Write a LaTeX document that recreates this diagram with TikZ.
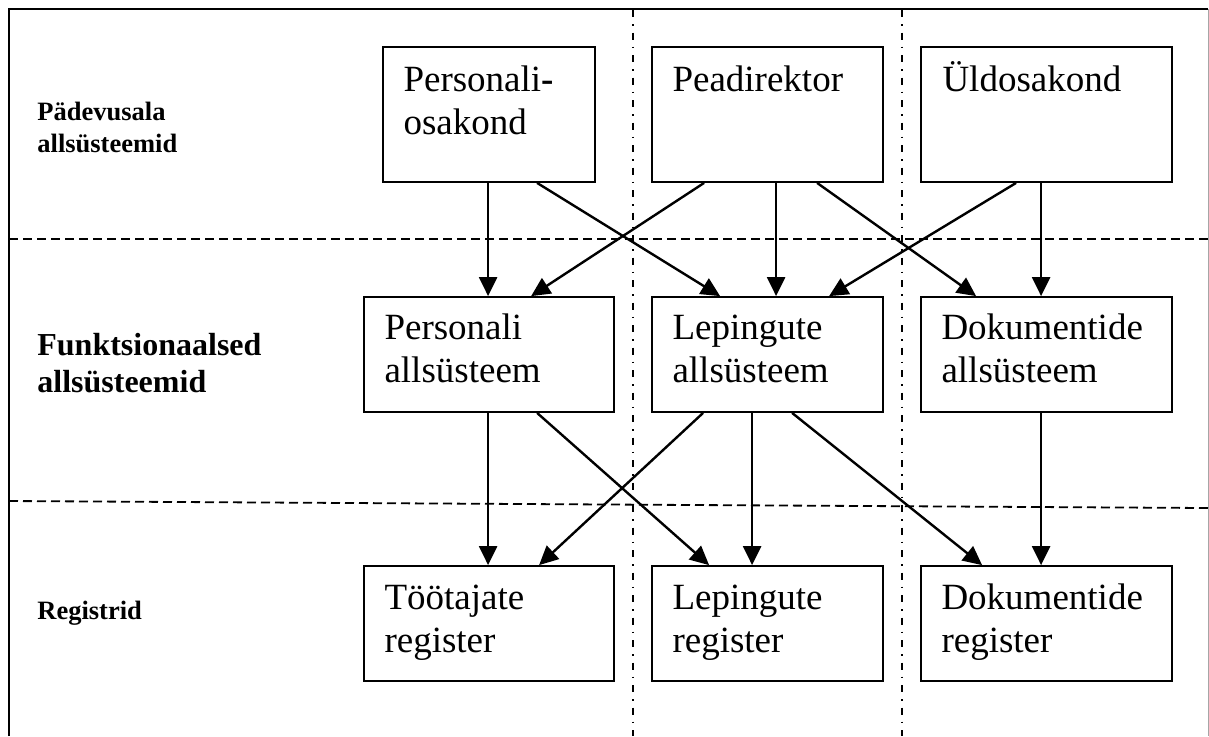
\documentclass[tikz,border=0pt]{standalone}
\usepackage{fontspec}
\setmainfont{Liberation Serif}
\usetikzlibrary{arrows.meta}
\begin{document}
\begin{tikzpicture}[x=0.5pt,y=-0.5pt,
  box/.style={draw, line width=0.9pt, rectangle, inner sep=0pt},
  topbox/.style={box, minimum height=67.5pt},
  lowbox/.style={box, minimum height=57.5pt},
  boxtext/.style={anchor=base west, inner sep=0pt, align=left,
    font=\fontsize{18.5}{21.5}\selectfont},
  rowlabel/.style={anchor=base west, inner sep=0pt, align=left,
    font=\bfseries\fontsize{13.25}{16}\selectfont},
  arr/.style={line width=1.2pt, -{Triangle[length=9.5pt,width=9pt]}},
  rowsep/.style={line width=0.9pt, dash pattern=on 4.5pt off 2.5pt},
  colsep/.style={line width=0.7pt, dash pattern=on 3.5pt off 3.5pt on 0.75pt off 3.5pt},
]
\useasboundingbox (0,0) rectangle (1209,736);

% outer frame
\draw[line width=1.1pt] (9,736) -- (9,9) -- (1208,9);
\draw[gray!70, line width=0.5pt] (1208,9) -- (1208,736);

% row and column separators
\draw[rowsep] (9,239) -- (1208,239);
\draw[rowsep] (9,501) -- (1208,508);
\draw[colsep] (633,10) -- (633,736);
\draw[colsep] (902,10) -- (902,736);

% row labels (anchored at the baseline of the last line)
\node[rowlabel] (lab1) at (37,152) {Pädevusala\\allsüsteemid};
\node[rowlabel, font=\bfseries\fontsize{16}{18.5}\selectfont] (lab2) at (37,392) {Funktsionaalsed\\allsüsteemid};
\node[rowlabel] (lab3) at (37,619) {Registrid};

% competence subsystems
\node[topbox, minimum width=106pt]   (po) at (489,114.5) {};
\node[topbox, minimum width=115.5pt] (pd) at (767.5,114.5) {};
\node[topbox, minimum width=125.5pt] (uo) at (1046.5,114.5) {};
\node[boxtext] (tpo) at ([shift={(10.5pt,-44pt)}]po.north west) {Personali{\bfseries -}\\osakond};
\node[boxtext] (tpd) at ([shift={(10.5pt,-22.5pt)}]pd.north west) {Peadirektor};
\node[boxtext] (tuo) at ([shift={(11pt,-22.5pt)}]uo.north west) {Üldosakond};

% functional subsystems
\node[lowbox, minimum width=125pt]   (ps) at (489,354.5) {};
\node[lowbox, minimum width=115.5pt] (ls) at (767.5,354.5) {};
\node[lowbox, minimum width=125.5pt] (ds) at (1046.5,354.5) {};
\node[boxtext] (tps) at ([shift={(10.5pt,-43pt)}]ps.north west) {Personali\\allsüsteem};
\node[boxtext] (tls) at ([shift={(10.5pt,-43pt)}]ls.north west) {Lepingute\\allsüsteem};
\node[boxtext] (tds) at ([shift={(10.5pt,-43pt)}]ds.north west) {Dokumentide\\allsüsteem};

% registers
\node[lowbox, minimum width=125pt]   (tr) at (489,623.5) {};
\node[lowbox, minimum width=115.5pt] (lr) at (767.5,623.5) {};
\node[lowbox, minimum width=125.5pt] (dr) at (1046.5,623.5) {};
\node[boxtext] (ttr) at ([shift={(10.5pt,-43.5pt)}]tr.north west) {Töötajate\\register};
\node[boxtext] (tlr) at ([shift={(10.5pt,-43.5pt)}]lr.north west) {Lepingute\\register};
\node[boxtext] (tdr) at ([shift={(10.5pt,-43.5pt)}]dr.north west) {Dokumentide\\register};

% competence -> functional
\draw[arr] ([xshift=53pt]po.south west)   -- ([xshift=62.5pt]ps.north west);
\draw[arr] ([xshift=77.5pt]po.south west) -- ([xshift=34.5pt]ls.north west);
\draw[arr] ([xshift=26.5pt]pd.south west) -- ([xshift=84pt]ps.north west);
\draw[arr] ([xshift=62.5pt]pd.south west) -- ([xshift=62.5pt]ls.north west);
\draw[arr] ([xshift=83pt]pd.south west)   -- ([xshift=28pt]ds.north west);
\draw[arr] ([xshift=48pt]uo.south west)   -- ([xshift=89pt]ls.north west);
\draw[arr] ([xshift=60.5pt]uo.south west) -- ([xshift=60.5pt]ds.north west);

% functional -> registers
\draw[arr] ([xshift=62.5pt]ps.south west) -- ([xshift=62.5pt]tr.north west);
\draw[arr] ([xshift=87pt]ps.south west)   -- ([xshift=29pt]lr.north west);
\draw[arr] ([xshift=26pt]ls.south west)   -- ([xshift=88pt]tr.north west);
\draw[arr] ([xshift=50.5pt]ls.south west) -- ([xshift=50.5pt]lr.north west);
\draw[arr] ([xshift=70.5pt]ls.south west) -- ([xshift=31pt]dr.north west);
\draw[arr] ([xshift=60.5pt]ds.south west) -- ([xshift=60.5pt]dr.north west);
\end{tikzpicture}
\end{document}
